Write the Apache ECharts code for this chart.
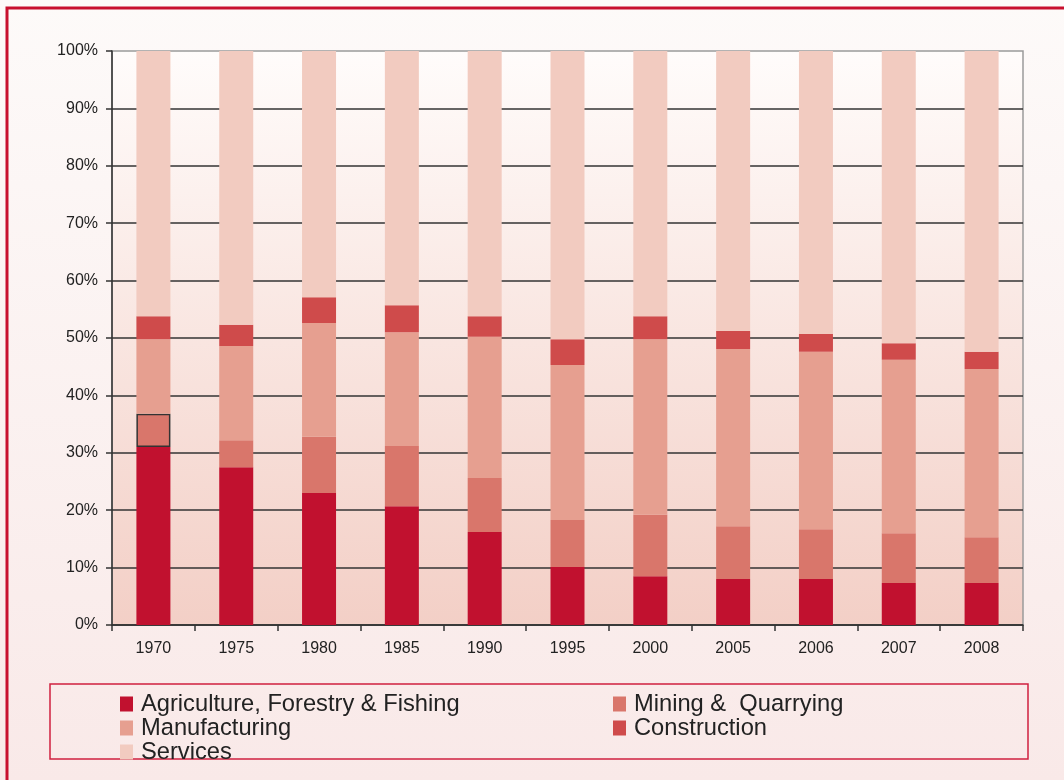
<!DOCTYPE html>
<html>
<head>
<meta charset="utf-8">
<script src="https://cdn.jsdelivr.net/npm/echarts@6/dist/echarts.min.js"></script>
<style>
  html, body { margin: 0; padding: 0; }
  #chart { width: 1064px; height: 780px; }
</style>
</head>
<body>
<div id="chart"></div>
<script>
// 年份
const years = ['1970', '1975', '1980', '1985', '1990', '1995', '2000', '2005', '2006', '2007', '2008'];
// 各行业占比（%）
const agriculture = [31.0, 27.5, 23.0, 20.7, 16.2, 10.1, 8.5, 8.0, 8.0, 7.3, 7.3];
const mining = [5.8, 4.7, 9.8, 10.5, 9.4, 8.2, 10.7, 9.2, 8.7, 8.7, 8.0];
const manufacturing = [13.0, 16.4, 19.8, 19.8, 24.6, 27.0, 30.6, 30.9, 30.9, 30.2, 29.3];
const construction = [4.0, 3.7, 4.5, 4.7, 3.6, 4.5, 4.0, 3.1, 3.1, 2.9, 3.0];
const services = [46.2, 47.7, 42.9, 44.3, 46.2, 50.2, 46.2, 48.8, 49.3, 50.9, 52.4];

const names = ['Agriculture, Forestry & Fishing', 'Mining &  Quarrying', 'Manufacturing', 'Construction', 'Services'];
const colors = ['#c1112f', '#d9766b', '#e69f90', '#cf4b4b', '#f2cbc0'];

const font = '"Liberation Sans", Arial, sans-serif';

const chart = echarts.init(document.getElementById('chart'));

// 1970 年的采矿柱带一个黑框（原图里的选中框）
const miningData = mining.map((v, i) => i === 0
  ? { value: v, itemStyle: { borderColor: '#333', borderWidth: 1.5 } }
  : v);

const seriesData = [agriculture, miningData, manufacturing, construction, services];

// 图例公共样式
const legendBase = {
  orient: 'vertical',
  top: 687,
  icon: 'rect',
  itemWidth: 13,
  itemHeight: 15,
  itemGap: 0,
  textStyle: { fontSize: 23.7, lineHeight: 23, fontFamily: font, color: '#222', padding: [0, 0, 0, 3] }
};

const option = {
  backgroundColor: {
    type: 'linear', x: 0, y: 0, x2: 0, y2: 1,
    colorStops: [
      { offset: 0, color: '#fdfaf9' },
      { offset: 1, color: '#f9e9e8' }
    ]
  },
  animation: false,
  grid: {
    left: 112,
    right: 41,
    top: 51,
    bottom: 155,
    show: true,
    borderColor: '#9a9a9a',
    borderWidth: 1.5,
    backgroundColor: {
      type: 'linear', x: 0, y: 0, x2: 0, y2: 1,
      colorStops: [
        { offset: 0, color: '#fffcfb' },
        { offset: 1, color: '#f3cfc6' }
      ]
    }
  },
  xAxis: {
    type: 'category',
    data: years,
    axisLine: { lineStyle: { color: '#333', width: 1.5 } },
    axisTick: { show: true, length: 6, lineStyle: { color: '#333', width: 1.5 } },
    axisLabel: { color: '#222', fontSize: 16, fontFamily: font, margin: 16 }
  },
  yAxis: {
    type: 'value',
    min: 0,
    max: 100,
    interval: 10,
    axisLine: { show: true, lineStyle: { color: '#333', width: 1.5 } },
    axisTick: { show: true, length: 6, lineStyle: { color: '#333', width: 1.5 } },
    axisLabel: { color: '#222', fontSize: 16, fontFamily: font, margin: 14, formatter: '{value}%' },
    splitLine: { show: true, showMaxLine: false, lineStyle: { color: '#333', width: 1.5 } }
  },
  legend: [
    { ...legendBase, left: 115, data: [names[0], names[2], names[4]] },
    { ...legendBase, left: 608, data: [names[1], names[3]] }
  ],
  graphic: [
    {
      type: 'rect',
      shape: { x: 7, y: 8, width: 1200, height: 900 },
      style: { fill: 'none', stroke: '#c8102e', lineWidth: 3 },
      silent: true
    },
    {
      type: 'rect',
      shape: { x: 50, y: 684, width: 978, height: 75 },
      style: { fill: 'none', stroke: '#d0203f', lineWidth: 1.5 },
      silent: true
    }
  ],
  series: names.map((name, i) => ({
    name: name,
    type: 'bar',
    stack: 'total',
    barWidth: 34,
    itemStyle: { color: colors[i] },
    data: seriesData[i]
  }))
};

chart.setOption(option);
</script>
</body>
</html>
